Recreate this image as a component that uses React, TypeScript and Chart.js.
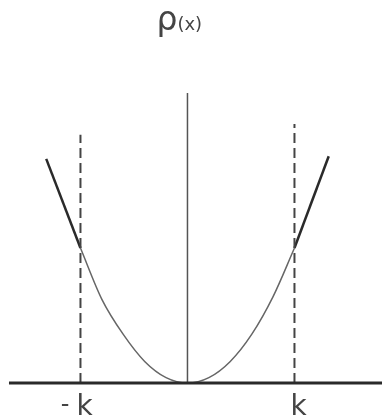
import React, { useEffect, useRef } from "react";
import { Chart, registerables } from "chart.js";

Chart.register(...registerables);

// Huber loss rho(x), threshold k = 1
const kValue = 1;
const leftArmX = [-1.32, -1.0];
const leftArmY = [0.83, 0.5];
const bowlX = [-1.0, -0.8, -0.6, -0.4, -0.2, 0, 0.2, 0.4, 0.6, 0.8, 1.0];
const bowlY = [0.5, 0.31, 0.18, 0.08, 0.02, 0, 0.02, 0.08, 0.18, 0.32, 0.5];
const rightArmX = [1.0, 1.32];
const rightArmY = [0.5, 0.84];
const axisSpan = [-1.668, 1.818];
const centerLineTop = 1.074;
const guideTops = [0.919, 0.959];
const tickLabels = ["-k", "k"];
const titleMain = "ρ";
const titleArg = "(x)";

const pts = (xs: number[], ys: number[]) => xs.map((x, i) => ({ x, y: ys[i] }));

const labelsPlugin = {
  id: "huberLabels",
  afterDraw(chart: any) {
    const { ctx, scales } = chart;
    const xs = scales.x;
    const ys = scales.y;
    ctx.save();
    ctx.fillStyle = "#444";
    ctx.textBaseline = "alphabetic";
    // title rho(x)
    ctx.font = "400 33px 'DejaVu Sans', sans-serif";
    ctx.textAlign = "left";
    const cx = xs.getPixelForValue(0);
    ctx.fillText(titleMain, cx - 31, 30);
    const w = ctx.measureText(titleMain).width;
    ctx.font = "400 18px 'DejaVu Sans', sans-serif";
    ctx.fillText(titleArg, cx - 31 + w, 30);
    // threshold labels
    const base = ys.getPixelForValue(0) + 32;
    ctx.font = "400 28px 'DejaVu Sans', sans-serif";
    const lx = xs.getPixelForValue(-kValue);
    ctx.fillText("k", lx - 4, base);
    ctx.font = "400 24px 'DejaVu Sans', sans-serif";
    ctx.textAlign = "right";
    ctx.fillText("-", lx - 11, base - 3);
    ctx.font = "400 28px 'DejaVu Sans', sans-serif";
    ctx.textAlign = "left";
    const rx = xs.getPixelForValue(kValue);
    ctx.fillText(tickLabels[1], rx - 4, base);
    ctx.restore();
  },
};

export default function App() {
  const ref = useRef<HTMLCanvasElement>(null);
  useEffect(() => {
    if (!ref.current) return;
    const lineBase = { showLine: true, pointRadius: 0, fill: false };
    const chart = new Chart(ref.current, {
      type: "scatter",
      data: {
        datasets: [
          { ...lineBase, data: pts(axisSpan, [0, 0]), borderColor: "#2a2a2a", borderWidth: 3 },
          { ...lineBase, data: pts([0, 0], [0, centerLineTop]), borderColor: "#555", borderWidth: 1.5 },
          { ...lineBase, data: pts([-kValue, -kValue], [0, guideTops[0]]), borderColor: "#444", borderWidth: 2, borderDash: [10, 5] },
          { ...lineBase, data: pts([kValue, kValue], [0, guideTops[1]]), borderColor: "#444", borderWidth: 2, borderDash: [10, 5] },
          { ...lineBase, data: pts(bowlX, bowlY), borderColor: "#666", borderWidth: 1.5, cubicInterpolationMode: "monotone" },
          { ...lineBase, data: pts(leftArmX, leftArmY), borderColor: "#2a2a2a", borderWidth: 2.5 },
          { ...lineBase, data: pts(rightArmX, rightArmY), borderColor: "#2a2a2a", borderWidth: 2.5 },
        ] as any,
      },
      options: {
        animation: false,
        responsive: true,
        maintainAspectRatio: false,
        layout: { padding: 0 },
        plugins: { legend: { display: false }, tooltip: { enabled: false }, title: { display: false } },
        scales: {
          x: { type: "linear", display: false, min: -1.752, max: 1.818 },
          y: { type: "linear", display: false, min: -0.137, max: 1.4185 },
        },
      },
      plugins: [labelsPlugin],
    });
    return () => chart.destroy();
  }, []);
  return (
    <div style={{ position: "fixed", left: 0, top: 0, width: 382, height: 420, background: "#fff" }}>
      <canvas ref={ref} />
    </div>
  );
}
